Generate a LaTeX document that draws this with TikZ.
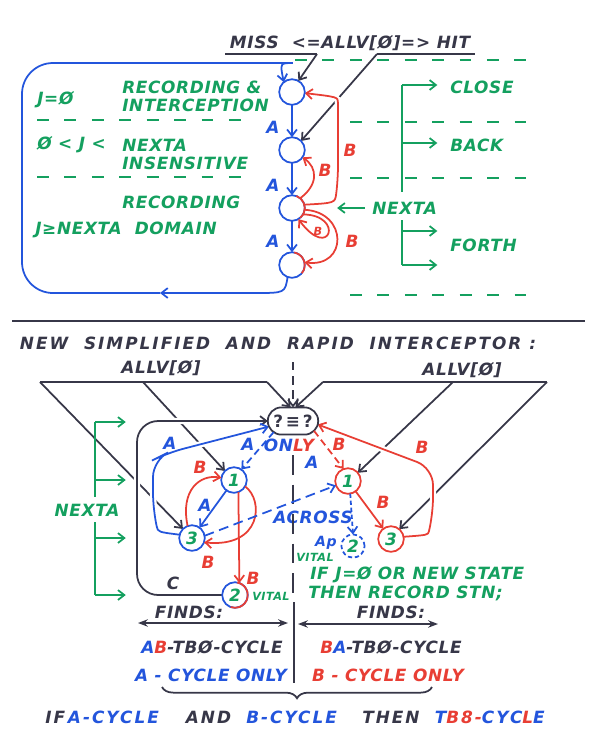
\documentclass[tikz,border=0pt]{standalone}
\usepackage{fontspec}
\usepackage{xcolor}
\usepackage{tikz}
\usetikzlibrary{calc, positioning, arrows.meta, shapes.misc, decorations.pathreplacing}
\pgfdeclarelayer{bg}
\pgfsetlayers{bg,main}
\newfontfamily\hand[LetterSpace=4]{DejaVu Sans}
\newfontfamily\handwide[LetterSpace=12]{DejaVu Sans}
\definecolor{inkgreen}{RGB}{20,160,95}
\definecolor{inkblue}{RGB}{35,85,220}
\definecolor{inkred}{RGB}{232,62,52}
\definecolor{inkdark}{RGB}{55,55,72}
\tikzset{
  lbl/.style={font=\hand\bfseries\itshape\fontsize{12}{13}\selectfont, inner sep=0pt},
  smalltxt/.style={font=\hand\bfseries\itshape\fontsize{8}{9}\selectfont, inner sep=0pt},
  ink/.style={line width=1.25pt},
  arr/.style={-{Straight Barb[length=4.5pt,width=7pt]}},
  stn/.style={circle, draw=inkblue, fill=white, ink, minimum size=0.64cm, inner sep=0pt, outer sep=0pt,
    text=inkgreen, font=\hand\bfseries\itshape\fontsize{12}{13}\selectfont},
  hubbox/.style={rounded rectangle, draw=inkdark, fill=white, ink, minimum width=1.33cm, minimum height=0.68cm,
    inner sep=1pt, outer sep=0pt, text=inkdark, font=\hand\bfseries\fontsize{12}{13}\selectfont},
  dashln/.style={inkgreen, line width=1pt, dash pattern=on 8.5pt off 11pt},
  crossgap/.style={preaction={draw=white, line width=4.5pt, -}},
}

\begin{document}
\begin{tikzpicture}[x=0.025cm, y=-0.025cm]
\useasboundingbox (0,0) rectangle (600,746);

% top stations %
\node[stn] (s1) at (292,92) {};
\node[stn] (s2) at (292,150) {};
\node[stn] (s3) at (292,208) {};
\node[stn] (s4) at (292,265) {};
\draw[inkred, ink] (s3.70) arc[start angle=70, end angle=-50, radius=0.32cm];
\draw[inkred, ink] (s4.80) arc[start angle=80, end angle=-40, radius=0.32cm];

% top labels %
\node[lbl, inkdark] (miss) at (350,43) {MISS\ \ <=ALLV[Ø]=> HIT};
\coordinate (missr) at (317,54);
\coordinate (hitl) at (377,54);
\node[lbl, inkgreen, anchor=west] (jzero) at (37,100) {J=Ø};
\node[lbl, inkgreen, anchor=west] (recint) at (122,87) {RECORDING \&};
\node[lbl, inkgreen, anchor=west] (intc) at (122,105) {INTERCEPTION};
\node[lbl, inkgreen, anchor=west] (jmid) at (37,145) {Ø < J <};
\node[lbl, inkgreen, anchor=west] (nextins) at (122,145) {NEXTA};
\node[lbl, inkgreen, anchor=west] (insens) at (122,163) {INSENSITIVE};
\node[lbl, inkgreen, anchor=west] (recdom) at (122,202) {RECORDING};
\node[lbl, inkgreen, anchor=west] (jdom) at (35,230) {J≥NEXTA\ \ DOMAIN};
\node[lbl, inkgreen, anchor=west] (close) at (450,87) {CLOSE};
\node[lbl, inkgreen, anchor=west] (back) at (450,145) {BACK};
\node[lbl, inkgreen, anchor=west] (forth) at (450,245) {FORTH};
\node[lbl, inkgreen, anchor=west] (nexttop) at (372,208) {NEXTA};
\foreach \y/\n in {127/1,185/2,241/3}
  \node[lbl, inkblue] (la\n) at (273,\y) {A};
\node[lbl, inkred] (lb1) at (350,150) {B};
\node[lbl, inkred] (lb2) at (325,170) {B};
\node[smalltxt, inkred] (lb3) at (318,231) {B};
\node[lbl, inkred] (lb4) at (352,241) {B};

% top dashed rules %
\foreach \yl/\yr in {120/122,177/178} {
  \draw[dashln] (37,\yl) -- (250,\yl);
  \draw[dashln] (350,\yr) -- (540,\yr);
}
\draw[dashln] (295,60) -- (540,60);
\draw[dashln] (350,295) -- (540,295);

% top edges %
\draw[inkdark, line width=1.2pt] (225,54) -- (missr);
\draw[inkdark, line width=1.2pt] (hitl) -- (475,54);
\draw[inkdark, ink, arr] (missr) -- (s1.60);
\draw[inkblue, ink, arr] (s1) -- (s2);
\draw[inkblue, ink, arr] (s2) -- (s3);
\draw[inkblue, ink, arr] (s3) -- (s4);
\coordinate (loopmid) at (160,293);
\draw[inkblue, ink, arr] (s4.250) .. controls (285,293) .. (255,293) -- (loopmid);
\draw[inkblue, ink, arr, rounded corners=22] (loopmid) -- (22,293) -- (22,63) -- (262,63) .. controls (280,63) .. (s1.130);
\draw[inkred, ink, arr] (s3.50) .. controls (318,185) and (318,168) .. (s2.-35);
\draw[inkred, ink, arr] (s3.-30) .. controls (345,215) and (330,262) .. (s3.-60);
\draw[inkred, ink, arr] (s3.-8) .. controls (348,212) and (348,268) .. (s4.12);
\begin{pgfonlayer}{bg}
  \draw[inkdark, ink, arr] (hitl) -- (s2.45);
  \draw[inkred, ink, arr, crossgap, rounded corners=10] (s3.15) .. controls (335,203) .. (338,180) -- (338,117) .. controls (338,97) .. (s1.-5);
\end{pgfonlayer}

% top nexta tree %
\foreach \n/\y in {1/85,2/143,3/192,4/220,5/231,6/265}
  \coordinate (t\n) at (402,\y);
\draw[inkgreen, ink] (t1) -- (t3);
\draw[inkgreen, ink] (t4) -- (t6);
\draw[inkgreen, ink, arr, shorten >=9pt] (t1) -- (t1 -| close.west);
\draw[inkgreen, ink, arr, shorten >=9pt] (t2) -- (t2 -| back.west);
\draw[inkgreen, ink, arr, shorten >=9pt] (t5) -- (t5 -| forth.west);
\draw[inkgreen, ink, arr, shorten >=9pt] (t6) -- (t6 -| forth.west);
\draw[inkgreen, ink, arr, shorten <=5pt, shorten >=23pt] (nexttop.west) -- (nexttop.west -| s3.east);

% separator %
\draw[inkdark, line width=1.3pt] (12,321) -- (585,321);

% lower labels %
\node[lbl, inkdark] (title) at (278,343) {\handwide NEW\ \ SIMPLIFIED\ \ AND\ \ RAPID\ \ INTERCEPTOR :};
\node[lbl, inkdark] (allvl) at (161,368) {ALLV[Ø]};
\node[lbl, inkdark] (allvr) at (462,370) {ALLV[Ø]};
\coordinate (lh1) at (40,382);
\coordinate (lh2) at (143,382);
\coordinate (lh3) at (267,382);
\coordinate (rh1) at (323,382);
\coordinate (rh2) at (453,382);
\coordinate (rh3) at (547,382);

% lower stations %
\node[hubbox] (hub) at (293,421) {?\,≡\,?};
\node[stn] (a1) at (234,480) {1};
\node[stn] (a3) at (192,538) {3};
\node[stn] (a2) at (235,595) {2};
\node[stn, draw=inkred] (b1) at (348,481) {1};
\node[stn, draw=inkred] (b3) at (391,539) {3};
\node[stn, dash pattern=on 3pt off 2pt, minimum size=0.58cm] (b2) at (353,546) {2};
\draw[inkred, ink] (a2.80) arc[start angle=80, end angle=-110, radius=0.32cm];

\node[lbl, inkblue] (lA1) at (170,443) {A};
\node[lbl, inkblue] (lA2) at (248,444) {A};
\node[lbl] (only) at (289,445) {\textcolor{inkblue}{ON}\textcolor{inkred}{LY}};
\node[lbl, inkred] (lB1) at (339,444) {B};
\node[lbl, inkblue] (lA3) at (205,505) {A};
\node[lbl, inkred] (lB2) at (200,467) {B};
\node[lbl, inkred] (lB3) at (208,562) {B};
\node[lbl, inkred] (lB4) at (253,578) {B};
\node[lbl, inkdark] (lC) at (173,583) {C};
\node[smalltxt, inkgreen, anchor=west] (vital1) at (252,596) {VITAL};
\node[lbl, inkblue] (lA4) at (312,462) {A};
\node[lbl, inkblue] (across) at (313,517) {ACROSS};
\node[lbl, inkred] (lB5) at (383,502) {B};
\node[lbl, inkred] (lB6) at (422,447) {B};
\node[lbl, inkblue, font=\hand\bfseries\itshape\fontsize{10}{11}\selectfont] (ap) at (326,543) {Ap};
\node[smalltxt, inkgreen] (vital2) at (315,557) {VITAL};
\node[lbl, inkgreen, anchor=west] (ifj) at (310,575) {IF J=Ø OR NEW STATE};
\node[lbl, inkgreen, anchor=west] (then) at (308,593) {THEN RECORD STN;};

% lower edges %
\draw[inkdark, ink] (lh1) -- (lh3);
\draw[inkdark, ink] (rh1) -- (rh3);
\draw[inkdark, ink, arr] (lh3) -- (hub.100);
\draw[inkdark, ink, arr] (rh1) -- (hub.80);
\draw[inkdark, ink, arr, dash pattern=on 6pt off 4pt] (293,362) -- (hub.north);
\draw[inkdark, ink, dash pattern=on 14pt off 7pt] (293,455) -- (293,600);
\draw[inkdark, ink] (294,602) -- (294,683);
\draw[inkblue, ink, arr, dash pattern=on 5pt off 3pt] (hub.210) -- (a1.55);
\draw[inkred, ink, arr, dash pattern=on 5pt off 3pt] (hub.-25) -- (b1.110);
\draw[inkblue, ink, arr] (a1) -- (a3);
\draw[inkred, ink, arr] (a3.110) .. controls (180,490) and (200,474) .. (a1.170);
\draw[inkred, ink, arr] (a1.-30) .. controls (264,500) and (262,548) .. (a3.-20);
\draw[inkred, ink, arr] (a1.-70) -- (a2.70);
\draw[inkblue, ink, arr, dash pattern=on 7pt off 4pt] (a3.10) -- (b1.200);
\draw[inkred, ink, arr] (b1) -- (b3);
\draw[inkblue, ink, arr, dash pattern=on 3pt off 2pt] (b1.-80) -- (b2.north);
\begin{pgfonlayer}{bg}
  \draw[inkdark, ink, arr] (lh1) -- (a3.135);
  \draw[inkdark, ink, arr] (lh2) -- (a1.135);
  \draw[inkdark, ink, arr] (rh2) -- (b1.40);
  \draw[inkdark, ink, arr] (rh3) -- (b3.50);
  \coordinate (cleft) at (137,421);
  \draw[inkdark, ink, arr, crossgap, rounded corners=15] (a2.west) -| (cleft) -- (hub.west);
  \draw[inkblue, ink, arr, crossgap, rounded corners=12] (a3.165) .. controls (158,532) .. (153,510) -- (153,460) -- (167,453) -- (hub.193);
  \draw[inkred, ink, arr, crossgap, rounded corners=12] (b3.10) .. controls (428,535) .. (433,515) -- (433,468) -- (hub.-8);
\end{pgfonlayer}

% lower nexta tree %
\foreach \n/\y in {1/422,2/480,3/497,4/522,5/538,6/595}
  \coordinate (n\n) at (95,\y);
\node[lbl, inkgreen] (nextlow) at (87,510) {NEXTA};
\draw[inkgreen, ink] (n1) -- (n3);
\draw[inkgreen, ink] (n4) -- (n6);
\foreach \n in {1,2,5,6}
  \draw[inkgreen, ink, arr, shorten >=8pt] (n\n) -- (n\n -| cleft);

% findings %
\node[lbl, inkdark] (findl) at (189,612) {FINDS:};
\node[lbl, inkdark] (findr) at (391,612) {FINDS:};
\coordinate (fl1) at (138,623);
\coordinate (fl2) at (288,623);
\coordinate (fr1) at (298,624);
\coordinate (fr2) at (438,624);
\draw[inkdark, ink, {Stealth[length=7pt]}-{Stealth[length=7pt]}] (fl1) -- (fl2);
\draw[inkdark, ink, {Stealth[length=7pt]}-{Stealth[length=7pt]}] (fr1) -- (fr2);
\node[lbl] (abtb) at (212,647) {\textcolor{inkblue}{A}\textcolor{inkred}{B}\textcolor{inkdark}{-TBØ-CYCLE}};
\node[lbl] (batb) at (391,647) {\textcolor{inkred}{B}\textcolor{inkblue}{A}\textcolor{inkdark}{-TBØ-CYCLE}};
\node[lbl, inkblue] (aonly) at (211,675) {A - CYCLE ONLY};
\node[lbl, inkred] (bonly) at (388,675) {B - CYCLE ONLY};
\coordinate (br1) at (162,687);
\coordinate (br2) at (432,687);
\draw[inkdark, ink, decorate, decoration={brace, mirror, amplitude=8pt}] (br1) -- (br2);
\node[lbl] (concl) at (295,717) {\handwide\textcolor{inkdark}{IF}\,\textcolor{inkblue}{A-CYCLE}\hspace{1.6em}\textcolor{inkdark}{AND}\hspace{0.9em}\textcolor{inkblue}{B-CYCLE}\hspace{1.5em}\textcolor{inkdark}{THEN}\hspace{0.9em}\textcolor{inkblue}{T}\textcolor{inkred}{B8-}\textcolor{inkblue}{CYC}\textcolor{inkred}{L}\textcolor{inkblue}{E}};
\end{tikzpicture}
\end{document}
